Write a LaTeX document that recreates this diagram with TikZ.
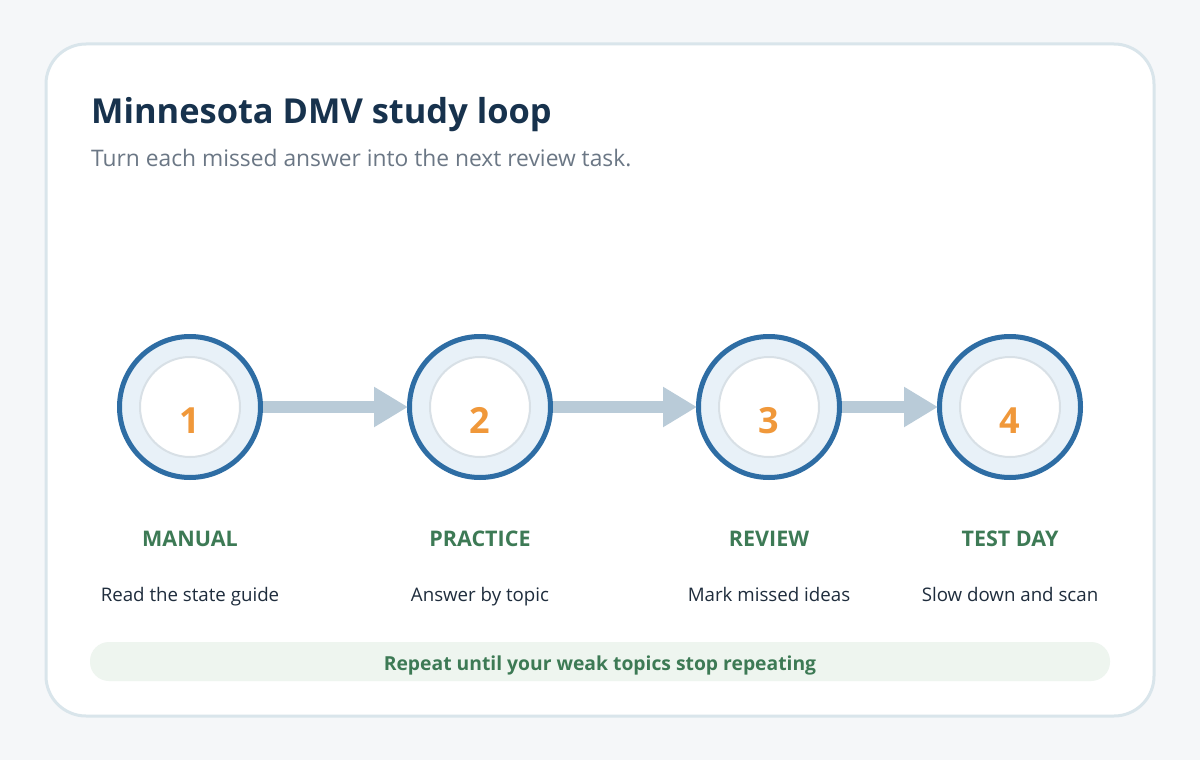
\documentclass[tikz,border=0pt]{standalone}
\usepackage{fontspec}
\setmainfont{Open Sans}
\usetikzlibrary{arrows.meta}
\definecolor{bg}{HTML}{F5F7F9}
\definecolor{cardborder}{HTML}{D9E5EB}
\definecolor{navy}{HTML}{17324D}
\definecolor{subgray}{HTML}{6B7785}
\definecolor{ringblue}{HTML}{2E6DA4}
\definecolor{ringfill}{HTML}{E8F1F8}
\definecolor{innerline}{HTML}{D8E0E6}
\definecolor{numorange}{HTML}{F0983A}
\definecolor{arrowc}{HTML}{B9CBD8}
\definecolor{labgreen}{HTML}{3D7A55}
\definecolor{desc}{HTML}{1F2D3D}
\definecolor{barfill}{HTML}{EEF5EF}
\tikzset{
  ring/.style={circle, draw=ringblue, line width=5pt, fill=ringfill, minimum size=141pt, inner sep=0pt},
  inner/.style={circle, draw=innerline, line width=2pt, fill=white, minimum size=100pt, inner sep=0pt},
  num/.style={text=numorange, font=\fontsize{36}{40}\selectfont\bfseries, anchor=base, inner sep=0pt},
  steplabel/.style={text=labgreen, font=\fontsize{21.5}{24}\selectfont\bfseries, anchor=base, inner sep=0pt},
  stepdesc/.style={text=desc, font=\fontsize{18.7}{22}\selectfont, anchor=base, inner sep=0pt},
  flow/.style={draw=arrowc, line width=12pt, -{Triangle[length=34pt,width=38pt]}, shorten >=-1pt}
}
\begin{document}
\begin{tikzpicture}[x=1pt,y=-1pt]
\useasboundingbox (0,0) rectangle (1200,760);
\fill[bg] (0,0) rectangle (1200,760);
\draw[cardborder, line width=3pt, fill=white, rounded corners=40pt] (46,44) rectangle (1154,716);
\node[anchor=base west, text=navy, font=\fontsize{34.4}{40}\selectfont\bfseries, inner sep=0pt] (title) at (91,124) {Minnesota DMV study loop};
\node[anchor=base west, text=subgray, font=\fontsize{22.8}{26}\selectfont, inner sep=0pt] (sub) at (91,166) {Turn each missed answer into the next review task.};
% circles
\foreach \n/\x in {1/190,2/480,3/769,4/1010}{
  \node[ring] (c\n) at (\x,407) {};
  \node[inner] (i\n) at (\x,407) {};
  \node[num] (n\n) at (\x,433) {\n};
}
\draw[flow] (c1.east) -- (c2.west);
\draw[flow] (c2.east) -- (c3.west);
\draw[flow] (c3.east) -- (c4.west);
% labels
\node[steplabel] (l1) at (190,546) {MANUAL};
\node[steplabel] (l2) at (480,546) {PRACTICE};
\node[steplabel] (l3) at (769,546) {REVIEW};
\node[steplabel] (l4) at (1010,546) {TEST DAY};
\node[stepdesc] (d1) at (190,601) {Read the state guide};
\node[stepdesc] (d2) at (480,601) {Answer by topic};
\node[stepdesc] (d3) at (769,601) {Mark missed ideas};
\node[stepdesc] (d4) at (1010,601) {Slow down and scan};
% bar
\fill[barfill, rounded corners=19pt] (90,642) rectangle (1110,681);
\node[text=labgreen, font=\fontsize{19.3}{22}\selectfont\bfseries, anchor=base, inner sep=0pt] (bar) at (600,670) {Repeat until your weak topics stop repeating};
\end{tikzpicture}
\end{document}
